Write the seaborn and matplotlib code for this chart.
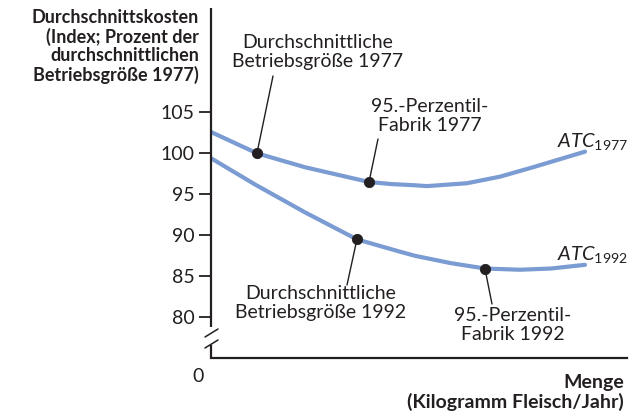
import numpy as np
import pandas as pd
import seaborn as sns
import matplotlib
matplotlib.use('Agg')
import matplotlib.pyplot as plt

##DATA
menge_1977 = [0, 11.5, 23.5, 39.5, 45, 51, 54, 64, 72.25, 80.5, 87, 93.5]
atc_1977 = [102.6, 100.0, 98.3, 96.5, 96.25, 96.1, 96.0, 96.35, 97.15, 98.3, 99.25, 100.2]
menge_1992 = [0, 11, 23.5, 36.5, 47.25, 51, 60, 68.5, 77.25, 85, 93.5]
atc_1992 = [99.4, 96.2, 92.8, 89.5, 88.0, 87.5, 86.6, 85.95, 85.8, 85.95, 86.4]
yticks = [80, 85, 90, 95, 100, 105]

#index of the marked points on each curve
dots_1977 = [1, 3]
dots_1992 = [3, 7]

df = pd.concat([
    pd.DataFrame({'Menge': menge_1977, 'ATC': atc_1977, 'Jahr': '1977'}),
    pd.DataFrame({'Menge': menge_1992, 'ATC': atc_1992, 'Jahr': '1992'}),
])
dots = pd.DataFrame({
    'Menge': [menge_1977[i] for i in dots_1977] + [menge_1992[i] for i in dots_1992],
    'ATC': [atc_1977[i] for i in dots_1977] + [atc_1992[i] for i in dots_1992],
})

##STYLE
sns.set_style('ticks')
plt.rcParams['font.family'] = ['Lato', 'DejaVu Sans']
plt.rcParams['mathtext.fontset'] = 'custom'
plt.rcParams['mathtext.it'] = 'Lato:italic'
plt.rcParams['mathtext.rm'] = 'Lato'

ink = '#231f20'
blue = '#7b9bd3'

#pixel -> data helpers for placing labels
def dx(px):
    return (px - 211) / 4

def dy(py):
    return 100 + (153.3 - py) / 8.2

fig = plt.figure(figsize=(6.31, 4.17), dpi=100)
ax = fig.add_axes([211 / 631, 1 - 357.5 / 417, (627 - 211) / 631, (357.5 - 8) / 417])

sns.lineplot(data=df, x='Menge', y='ATC', hue='Jahr', palette={'1977': blue, '1992': blue},
             linewidth=3, legend=False, ax=ax, zorder=2)
sns.scatterplot(data=dots, x='Menge', y='ATC', color=ink, s=55, edgecolor=ink, ax=ax, zorder=5)

ax.set_xlim(0, dx(627))
ax.set_ylim(dy(357.5), dy(8))
ax.set_xlabel('')
ax.set_ylabel('')
ax.set_xticks([])
ax.set_yticks(yticks)
ax.set_yticklabels([str(t) for t in yticks])
ax.tick_params(axis='y', length=9, width=1.3, color=ink, labelsize=14, labelcolor=ink, pad=3)

sns.despine(ax=ax)
ax.spines['left'].set_visible(False)
ax.spines['bottom'].set_color(ink)
ax.spines['bottom'].set_linewidth(1.6)

#broken y axis
lw = 1.6
ax.plot([0, 0], [dy(327), dy(8)], color=ink, lw=lw, clip_on=False, solid_capstyle='butt')
ax.plot([0, 0], [dy(357.5), dy(345)], color=ink, lw=lw, clip_on=False, solid_capstyle='butt')
ax.plot([dx(205), dx(218)], [dy(337), dy(329)], color=ink, lw=1.1, clip_on=False)
ax.plot([dx(205), dx(218)], [dy(348), dy(340)], color=ink, lw=1.1, clip_on=False)

#leader lines
leaders = [((273, 76), (257, 153)), ((378, 139), (369, 182)),
           ((347, 285), (357, 239)), ((492, 304), (485, 269))]
for (x0, y0), (x1, y1) in leaders:
    ax.plot([dx(x0), dx(x1)], [dy(y0), dy(y1)], color=ink, lw=1.0, zorder=4)

txt = dict(fontsize=14, color=ink, ha='center', va='center', linespacing=1.2)
ax.text(dx(318), dy(52), 'Durchschnittliche\nBetriebsgröße 1977', **txt)
ax.text(dx(430), dy(116), '95.-Perzentil-\nFabrik 1977', **txt)
ax.text(dx(321), dy(303), 'Durchschnittliche\nBetriebsgröße 1992', **txt)
ax.text(dx(513), dy(325), '95.-Perzentil-\nFabrik 1992', **txt)

ax.text(dx(557), dy(142), r'$\mathit{ATC}_{\mathrm{1977}}$', fontsize=14.5, color=ink, ha='left', va='center')
ax.text(dx(557), dy(255), r'$\mathit{ATC}_{\mathrm{1992}}$', fontsize=14.5, color=ink, ha='left', va='center')

#axis titles
fig.text(199 / 631, 1 - 46.5 / 417, 'Durchschnittskosten\n(Index; Prozent der\ndurchschnittlichen\nBetriebsgröße 1977)',
         fontsize=13, fontweight='bold', color=ink, ha='right', va='center', linespacing=1.09)
fig.text(198 / 631, 1 - 377 / 417, '0', fontsize=14, color=ink, ha='center', va='center')
fig.text(624 / 631, 1 - 392.5 / 417, 'Menge\n(Kilogramm Fleisch/Jahr)', fontsize=14, fontweight='bold',
         color=ink, ha='right', va='center', linespacing=1.12)

fig.savefig('out.png', dpi=100)
